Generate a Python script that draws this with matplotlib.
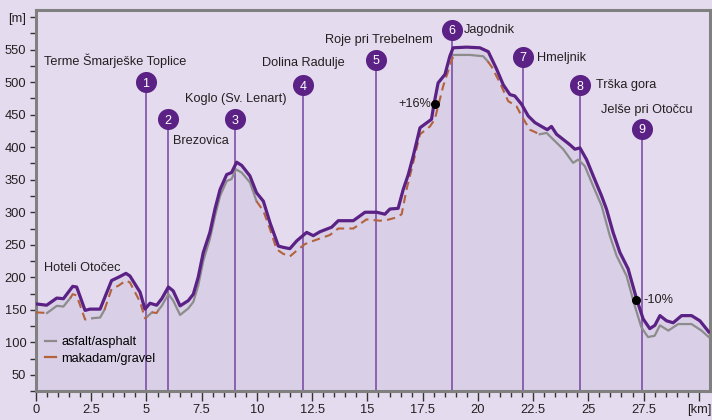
import matplotlib
matplotlib.use('Agg')
import matplotlib.pyplot as plt
from matplotlib.lines import Line2D

# glavni profil (vijolicna crta)
km = [0.0, 0.48, 0.94, 1.24, 1.66, 1.84, 2.22, 2.44, 2.90, 3.42, 3.73, 4.07, 4.25, 4.71,
      4.93, 5.16, 5.46, 5.69, 5.99, 6.21, 6.52, 6.89, 7.12, 7.34, 7.57, 7.87, 8.10, 8.33,
      8.63, 8.85, 9.08, 9.31, 9.68, 9.98, 10.29, 10.59, 10.97, 11.19, 11.49, 11.80, 12.25,
      12.55, 12.85, 13.38, 13.68, 14.36, 14.89, 15.42, 15.79, 16.02, 16.39, 16.62, 16.85,
      17.07, 17.38, 17.90, 18.01, 18.20, 18.51, 18.73, 18.88, 19.49, 20.09, 20.47, 20.85,
      21.15, 21.45, 21.67, 21.98, 22.28, 22.58, 22.88, 23.14, 23.33, 23.56, 23.86, 24.16,
      24.39, 24.62, 24.92, 25.22, 25.60, 25.82, 26.12, 26.43, 26.80, 27.18, 27.48, 27.78,
      28.01, 28.24, 28.54, 28.84, 29.22, 29.67, 30.05, 30.45]
elev = [159, 157, 168, 167, 186, 185, 149, 151, 151, 195, 200, 206, 202, 177,
        151, 160, 157, 167, 185, 179, 156, 164, 174, 200, 238, 269, 305, 335,
        358, 361, 377, 372, 356, 330, 317, 284, 248, 246, 244, 256, 269,
        264, 270, 277, 287, 287, 300, 300, 297, 305, 306, 335, 358,
        386, 430, 443, 466, 499, 512, 540, 553, 554, 553, 547, 520,
        496, 481, 479, 466, 448, 438, 432, 427, 432, 420, 412, 404,
        397, 399, 381, 356, 325, 305, 269, 238, 213, 167, 136, 121,
        126, 141, 133, 130, 141, 141, 133, 116]

# spodnja crta: podlaga odseka od te tocke naprej (a = asfalt, g = makadam)
low_km = [0.0, 0.5, 0.94, 1.24, 1.55, 1.66, 1.84, 2.22, 2.55, 2.90, 3.1, 3.42, 3.73, 4.07,
          4.25, 4.71, 4.93, 5.05, 5.25, 5.46, 5.55, 5.69, 5.99, 6.21, 6.52, 6.89, 7.12,
          7.34, 7.57, 7.87, 8.10, 8.33, 8.63, 8.85, 9.05, 9.31, 9.68, 9.98, 10.29, 10.59,
          10.89, 11.19, 11.49, 11.80, 12.17, 12.55, 13.30, 13.68, 14.36, 14.96, 15.57,
          15.87, 16.32, 16.55, 16.77, 17.07, 17.38, 17.83, 18.05, 18.43, 18.73, 18.9,
          19.64, 20.24, 20.45, 20.62, 21.0, 21.37, 21.75, 21.98, 22.35, 22.8, 23.11, 23.41,
          23.86, 24.31, 24.54, 24.84, 25.22, 25.6, 25.97, 26.28, 26.73, 27.1, 27.4, 27.7,
          28.0, 28.24, 28.62, 29.07, 29.67, 30.12, 30.45]
low_elev = [146, 145, 156, 155, 168, 174, 172, 135, 137, 138, 150, 182, 187, 195,
            192, 162, 137, 140, 146, 145, 150, 156, 174, 164, 142, 152, 162,
            187, 225, 259, 294, 325, 348, 351, 366, 361, 346, 317, 302, 274,
            243, 236, 232, 241, 251, 256, 265, 275, 275, 289, 287,
            288, 292, 297, 335, 376, 420, 432, 443, 494, 525, 542,
            542, 540, 532, 524, 499, 471, 463, 448, 427, 420, 422, 412,
            397, 376, 381, 371, 340, 310, 264, 233, 202, 156, 123, 108,
            110, 126, 118, 128, 128, 118, 108]
low_surf = ['g', 'a', 'a', 'a', 'g', 'g', 'g', 'g', 'a', 'a', 'g', 'g', 'g', 'g',
            'g', 'g', 'g', 'a', 'g', 'g', 'a', 'a', 'a', 'a', 'a', 'a', 'a',
            'a', 'a', 'a', 'a', 'a', 'a', 'a', 'a', 'a', 'a', 'g', 'g', 'g',
            'g', 'g', 'g', 'g', 'g', 'g', 'g', 'g', 'g', 'g', 'g',
            'g', 'g', 'g', 'g', 'g', 'g', 'g', 'g', 'g', 'g', 'a',
            'a', 'a', 'g', 'g', 'g', 'g', 'g', 'g', 'g', 'a', 'a', 'a',
            'a', 'a', 'a', 'a', 'a', 'a', 'a', 'a', 'a', 'a', 'a', 'a',
            'a', 'a', 'a', 'a', 'a', 'a', 'a']

# tocke na poti
wp_num = ['1', '2', '3', '4', '5', '6', '7', '8', '9']
wp_km = [4.98, 5.96, 9.02, 12.1, 15.38, 18.82, 22.02, 24.62, 27.41]
wp_elev = [500, 443, 443, 495, 534, 581, 539, 495, 428]

# imena krajev: besedilo, km, visina, poravnava
place_names = ['Terme Šmarješke Toplice', 'Brezovica', 'Koglo (Sv. Lenart)', 'Dolina Radulje',
               'Roje pri Trebelnem', 'Jagodnik', 'Hmeljnik', 'Trška gora',
               'Jelše pri Otočcu', 'Hoteli Otočec']
place_km = [3.6, 7.44, 9.03, 12.08, 15.5, 19.37, 22.66, 25.33, 27.65, 2.08]
place_elev = [533, 410, 474, 530, 565, 581, 538, 495, 458, 215]
place_ha = ['center', 'center', 'center', 'center', 'center', 'left', 'left', 'left',
            'center', 'center']

grade_text = ['+16%', '-10%']
grade_km = [18.08, 27.15]
grade_elev = [466, 165]

ytick_vals = [50, 100, 150, 200, 250, 300, 350, 400, 450, 500, 550, 600]
ytick_labels = ['50', '100', '150', '200', '250', '300', '350', '400', '450', '500', '550', '[m]']
xtick_vals = [0, 2.5, 5, 7.5, 10, 12.5, 15, 17.5, 20, 22.5, 25, 27.5, 30]
xtick_labels = ['0', '2.5', '5', '7.5', '10', '12.5', '15', '17.5', '20', '22.5', '25', '27.5', '[km]']

bg = '#e4dcee'
fill_col = '#d9cfe6'
purple = '#5b2185'
vline_col = '#7d4fa8'
grey = '#8c8c8c'
brown = '#b3623c'
spine_col = '#808080'

plt.rcParams['font.family'] = ['Liberation Sans', 'DejaVu Sans']

fig = plt.figure(figsize=(7.12, 4.2), dpi=100, facecolor=bg)
ax = fig.add_axes([0.0506, 0.069, 0.9464, 0.907])
ax.set_facecolor(bg)

ymin, ymax = 27, 611
ax.set_xlim(0, 30.5)
ax.set_ylim(ymin, ymax)

ax.fill_between(km, elev, ymin, color=fill_col, zorder=1, linewidth=0)
ax.vlines(wp_km, ymin, wp_elev, color=vline_col, linewidth=1.2, zorder=2)

# spodnja crta po odsekih
start = 0
for i in range(1, len(low_km)):
    if i == len(low_km) - 1 or low_surf[i] != low_surf[start]:
        xs = low_km[start:i + 1]
        ys = low_elev[start:i + 1]
        if low_surf[start] == 'g':
            ax.plot(xs, ys, color=brown, linewidth=1.5, dashes=(4, 2.5), zorder=3)
        else:
            ax.plot(xs, ys, color=grey, linewidth=1.6, zorder=3)
        start = i

ax.plot(km, elev, color=purple, linewidth=2.3, zorder=4, solid_joinstyle='round')

ax.scatter(wp_km, wp_elev, s=230, color=purple, zorder=5, linewidths=0)
for n, x, y in zip(wp_num, wp_km, wp_elev):
    ax.text(x, y - 2, n, color='white', ha='center', va='center', fontsize=9, zorder=6,
            family=['Liberation Sans Narrow', 'Liberation Sans'])

for t, x, y, h in zip(place_names, place_km, place_elev, place_ha):
    ax.text(x, y, t, ha=h, va='center', fontsize=9.2, color='#231f20', zorder=6)

ax.plot(grade_km, grade_elev, 'o', color='black', markersize=5.5, zorder=6)
ax.text(17.87, 466, grade_text[0], ha='right', va='center', fontsize=9.2, color='#231f20')
ax.text(27.47, 165, grade_text[1], ha='left', va='center', fontsize=9.2, color='#231f20')

for s in ax.spines.values():
    s.set_color(spine_col)
    s.set_linewidth(2.2)

ax.set_yticks(ytick_vals, ytick_labels)
ax.set_yticks([25 + 50 * i for i in range(12)], minor=True)
ax.set_xticks(xtick_vals, xtick_labels)
ax.set_xticks([0.5 * i for i in range(61)], minor=True)
ax.tick_params(axis='y', which='both', length=4, width=1, color='#333333',
               labelsize=9.3, pad=3, labelcolor='#231f20')
ax.tick_params(axis='x', which='major', length=7, width=1, color='#333333',
               labelsize=9.3, pad=2, labelcolor='#231f20')
ax.tick_params(axis='x', which='minor', length=4, width=1, color='#333333')

handles = [Line2D([], [], color=grey, linewidth=1.6),
           Line2D([], [], color=brown, linewidth=1.6)]
ax.legend(handles, ['asfalt/asphalt', 'makadam/gravel'], loc='lower left',
          bbox_to_anchor=(0.0, 0.045), frameon=False, fontsize=9.2, handlelength=0.9,
          handletextpad=0.4, labelspacing=0.35, borderaxespad=0.3)

plt.savefig('out.png', dpi=100, facecolor=bg)
